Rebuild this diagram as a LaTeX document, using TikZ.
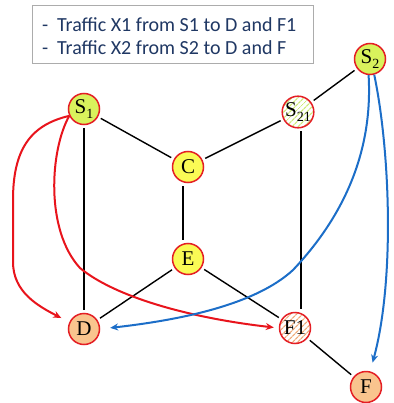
\documentclass[tikz,border=0pt]{standalone}
\usepackage{fontspec}
\setmainfont{Liberation Serif}
\newfontfamily\legendfont{Carlito}
\usetikzlibrary{arrows.meta,patterns.meta,calc}
\definecolor{nodered}{RGB}{228,30,36}
\definecolor{limefill}{RGB}{217,242,92}
\definecolor{yelfill}{RGB}{250,250,85}
\definecolor{peach}{RGB}{249,196,142}
\definecolor{hatchorange}{RGB}{240,170,120}
\definecolor{hatchgreen}{RGB}{205,235,120}
\definecolor{arrred}{RGB}{232,20,28}
\definecolor{arrblue}{RGB}{28,110,200}
\definecolor{legtext}{RGB}{32,56,100}
\newcommand\subtxt[1]{\raisebox{-4.5pt}{\fontsize{14}{14}\selectfont #1}}
\begin{document}
\begin{tikzpicture}[x=1pt,y=-1pt,
  netnode/.style={circle,draw=nodered,line width=1.5pt,minimum size=31pt,inner sep=0pt,
    font=\fontsize{21}{21}\selectfont},
  srcnode/.style={netnode,fill=limefill},
  midnode/.style={netnode,fill=yelfill},
  dstnode/.style={netnode,fill=peach},
  hatchgreennode/.style={netnode,preaction={fill=white},
    pattern={Lines[angle=45,distance=4pt,line width=1.3pt]},pattern color=hatchgreen},
  hatchorangenode/.style={netnode,preaction={fill=white},
    pattern={Lines[angle=45,distance=4pt,line width=1.3pt]},pattern color=hatchorange},
  link/.style={line width=1.4pt,black,shorten <=3pt,shorten >=3pt},
  redarrow/.style={line width=2pt,arrred,-{Stealth[length=8pt,width=7pt]}},
  bluearrow/.style={line width=2pt,arrblue,-{Stealth[length=8pt,width=7pt]}},
  legline/.style={anchor=west,inner sep=0pt,text=legtext,font=\legendfont\fontsize{20}{20}\selectfont}
]
\useasboundingbox (0,0) rectangle (393,403);
\fill[white] (0,0) rectangle (393,403);

% legend
\node[draw=gray!65,line width=1pt,fill=white,minimum width=281pt,minimum height=58pt,
  anchor=north west,inner sep=0pt] (legend) at (32,5) {};
\node[legline] (leg1) at (42,25) {\makebox[15pt][l]{-}Traffic X1 from S1 to D and F1};
\node[legline] (leg2) at (42,48) {\makebox[15pt][l]{-}Traffic X2 from S2 to D and F};

% nodes
\node[srcnode] (S1) at (84,109) {S\subtxt{1}};
\node[hatchgreennode] (S21) at (298,112) {S\subtxt{21}};
\node[srcnode] (S2) at (370,59) {S\subtxt{2}};
\node[midnode] (C) at (188,167) {C};
\node[midnode] (E) at (188,259) {E};
\node[dstnode] (D) at (84,329) {D};
\node[hatchorangenode] (F1) at (295,328) {F1};
\node[dstnode] (F) at (366,387) {F};

% links
\draw[link] (S1) -- (C);
\draw[link] (S21) -- (C);
\draw[link] (S2) -- (S21);
\draw[link] ([xshift=-5pt]C.south) -- ([xshift=-5pt]E.north);
\draw[link] (S1.south) -- (D.north);
\draw[link] ([xshift=3pt]S21.south) -- ([xshift=6pt]F1.north);
\draw[link] (E) -- (D);
\draw[link] (E) -- (F1);
\draw[link] (F1) -- (F);

% traffic X1
\draw[redarrow,shorten >=9pt] (S1.205) .. controls (30,125) and (13,150) .. (13,200)
  -- (13,262) .. controls (13,292) and (38,306) .. (D.155);
\draw[redarrow,shorten >=5pt] (S1.205) .. controls (50,150) and (45,230) .. (80,268)
  .. controls (115,297) and (190,318) .. (F1.west);

% traffic X2
\draw[bluearrow,shorten >=10pt] (S2.265) .. controls (373,150) and (345,215) .. (293,270)
  .. controls (255,305) and (180,320) .. (D.east);
\draw[bluearrow,shorten >=9pt] (S2.285) .. controls (390,150) and (395,280) .. (F.75);
\end{tikzpicture}
\end{document}
